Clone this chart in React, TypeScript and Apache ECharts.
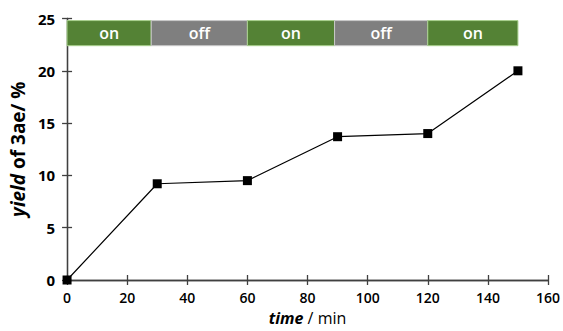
import React, { useEffect, useRef } from "react";
import * as echarts from "echarts";

const times = [0, 30, 60, 90, 120, 150];
const yields = [0, 9.2, 9.5, 13.7, 14.0, 20.0];
const xTicks = [0, 20, 40, 60, 80, 100, 120, 140, 160];
const yTicks = [0, 5, 10, 15, 20, 25];
const phaseBounds = [0, 28, 60, 89, 120, 150];
const phaseLabels = ["on", "off", "on", "off", "on"];
const phaseBand = [22.4, 24.8];

const GREEN = "#548235";
const GREY = "#7f7f7f";
const AXIS = "#404040";
const FONT = "'Open Sans', 'Liberation Sans', sans-serif";

export default function App() {
  const ref = useRef<HTMLDivElement>(null);
  useEffect(() => {
    if (!ref.current) return;
    const chart = echarts.init(ref.current, undefined, { renderer: "svg" });
    const areas = phaseLabels.map((lab, i) => [
      {
        xAxis: phaseBounds[i],
        yAxis: phaseBand[0],
        name: lab,
        itemStyle: {
          color: lab === "on" ? GREEN : GREY,
          borderColor: lab === "on" ? "#a9d18e" : "#c9c9c9",
          borderWidth: 1,
          opacity: 1,
        },
      },
      { xAxis: phaseBounds[i + 1], yAxis: phaseBand[1] },
    ]);
    const axisCommon = {
      axisLine: { show: true, onZero: false, lineStyle: { color: AXIS, width: 1.3 } },
      splitLine: { show: false },
    };
    chart.setOption({
      animation: false,
      grid: { left: 65, right: 14, top: 18.5, bottom: 50, containLabel: false },
      xAxis: [
        {
          ...axisCommon,
          type: "value",
          min: xTicks[0],
          max: xTicks[xTicks.length - 1],
          interval: 20,
          axisTick: { show: true, length: 5, lineStyle: { color: AXIS, width: 1.3 } },
          axisLabel: { color: "#000", fontSize: 14, fontFamily: FONT, fontWeight: 600, margin: 10 },
          name: "{i|time} / min",
          nameLocation: "middle",
          nameGap: 30,
          nameTextStyle: {
            color: "#000",
            fontSize: 16,
            fontFamily: FONT,
            rich: {
              i: { fontStyle: "italic", fontWeight: "bold", fontSize: 16, fontFamily: FONT, color: "#000" },
            },
          },
        },
        {
          ...axisCommon,
          type: "value",
          position: "bottom",
          min: xTicks[0],
          max: xTicks[xTicks.length - 1],
          interval: 20,
          axisTick: { show: true, inside: true, length: 5, lineStyle: { color: AXIS, width: 1.3 } },
          axisLabel: { show: false },
        },
      ],
      yAxis: [
        {
          ...axisCommon,
          type: "value",
          min: yTicks[0],
          max: yTicks[yTicks.length - 1],
          interval: 5,
          axisTick: { show: true, length: 5, lineStyle: { color: AXIS, width: 1.3 } },
          axisLabel: { color: "#000", fontSize: 15, fontFamily: FONT, fontWeight: "bold", margin: 12 },
          name: "{i|yield} of 3ae/ %",
          nameLocation: "middle",
          nameGap: 34,
          nameRotate: 90,
          nameTextStyle: {
            color: "#000",
            fontSize: 19,
            fontWeight: "bold",
            fontFamily: FONT,
            rich: {
              i: { fontStyle: "italic", fontWeight: "bold", fontSize: 19, fontFamily: FONT, color: "#000" },
            },
          },
        },
        {
          ...axisCommon,
          type: "value",
          position: "left",
          min: yTicks[0],
          max: yTicks[yTicks.length - 1],
          interval: 5,
          axisTick: { show: true, inside: true, length: 5, lineStyle: { color: AXIS, width: 1.3 } },
          axisLabel: { show: false },
        },
      ],
      series: [
        {
          type: "line",
          data: times.map((t, i) => [t, yields[i]]),
          symbol: "rect",
          symbolSize: 9,
          itemStyle: { color: "#000" },
          lineStyle: { color: "#000", width: 1.2 },
          z: 5,
          markArea: {
            silent: true,
            label: {
              show: true,
              position: "inside",
              color: "#fff",
              fontSize: 16,
              fontWeight: 600,
              fontFamily: FONT,
            },
            data: areas,
          },
        },
      ],
    });
    return () => chart.dispose();
  }, []);
  return <div ref={ref} style={{ width: 563, height: 331, position: "absolute", left: 0, top: 0 }} />;
}
